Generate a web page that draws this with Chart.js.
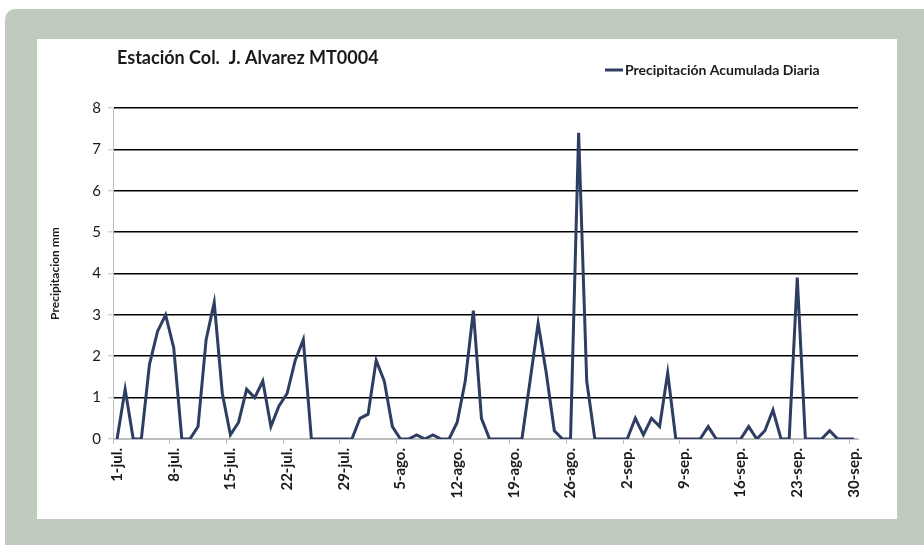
<!DOCTYPE html>
<html>
<head>
<meta charset="utf-8">
<script src="https://cdn.jsdelivr.net/npm/chart.js@4"></script>
<style>
    html, body { margin: 0; padding: 0; background: #ffffff; }
    body { width: 924px; height: 545px; position: relative; overflow: hidden; }
    .frame {
        position: absolute; left: 5px; top: 9px; width: 919px; height: 536px;
        background: #c1cabf; border-top-left-radius: 10px;
    }
    .panel {
        position: absolute; left: 37px; top: 39px; width: 860px; height: 480px;
        background: #ffffff;
    }
</style>
</head>
<body>
<div class="frame"></div>
<div class="panel"><canvas id="rainChart"></canvas></div>
<script>
const chartTitle = "Estación Col.  J. Alvarez MT0004";
const seriesName = "Precipitación Acumulada Diaria";
const axisTitle = "Precipitacion mm";

// days per month, 1-jul to 30-sep
const months = [["jul", 31], ["ago", 31], ["sep", 30]];

// daily rain (mm)
const julRain = [0, 1.2, 0, 0, 1.8, 2.6, 3.0, 2.2, 0, 0, 0.3, 2.4, 3.3, 1.1, 0.1, 0.4,
    1.2, 1.0, 1.4, 0.3, 0.8, 1.1, 1.9, 2.4, 0, 0, 0, 0, 0, 0, 0.5];
const agoRain = [0.6, 1.9, 1.4, 0.3, 0, 0, 0.1, 0, 0.1, 0, 0, 0.4, 1.4, 3.1, 0.5, 0,
    0, 0, 0, 0, 1.4, 2.8, 1.6, 0.2, 0, 0, 7.4, 1.4, 0, 0, 0];
const sepRain = [0, 0, 0.5, 0.1, 0.5, 0.3, 1.6, 0, 0, 0, 0, 0.3, 0, 0, 0, 0,
    0.3, 0, 0.2, 0.7, 0, 0, 3.9, 0, 0, 0, 0.2, 0, 0, 0];

const yTicks = [0, 1, 2, 3, 4, 5, 6, 7, 8];

const days = [];
months.forEach(([m, n]) => {
    for (let d = 1; d <= n; d++) days.push(d + "-" + m + ".");
});
const rain = julRain.concat(agoRain, sepRain);

const lineColor = "#2e3d62";
const axisGray = "#bfbfbf";
const fontFamily = "Lato, 'Open Sans', sans-serif";

const header = {
    id: "header",
    afterDraw(chart) {
        const ctx = chart.ctx;
        ctx.save();
        ctx.fillStyle = "#1a1a1a";
        ctx.textBaseline = "middle";
        ctx.font = "bold 18px " + fontFamily;
        ctx.fillText(chartTitle, 80, 19);
        ctx.strokeStyle = lineColor;
        ctx.lineWidth = 3;
        ctx.beginPath();
        ctx.moveTo(568, 31);
        ctx.lineTo(586, 31);
        ctx.stroke();
        ctx.font = "bold 14px " + fontFamily;
        ctx.fillText(seriesName, 588, 31);
        ctx.restore();
    }
};

new Chart(document.getElementById("rainChart"), {
    type: "line",
    data: {
        labels: days,
        datasets: [{
            label: seriesName,
            data: rain,
            borderColor: lineColor,
            backgroundColor: lineColor,
            borderWidth: 3,
            pointRadius: 0,
            tension: 0,
            fill: false
        }]
    },
    options: {
        responsive: true,
        maintainAspectRatio: false,
        animation: false,
        layout: { padding: { top: 69, right: 39, bottom: 0, left: 0 } },
        plugins: {
            legend: { display: false },
            tooltip: { enabled: false }
        },
        scales: {
            x: {
                offset: true,
                afterFit: s => { s.height = 80; },
                border: { color: axisGray, width: 1 },
                grid: {
                    offset: true,
                    drawOnChartArea: false,
                    tickLength: 5,
                    color: c => c.index % 7 === 0 ? axisGray : "transparent"
                },
                ticks: {
                    autoSkip: false,
                    minRotation: 90,
                    maxRotation: 90,
                    padding: 4,
                    color: "#1a1a1a",
                    font: { family: fontFamily, size: 15, weight: "bold" },
                    callback: (v, i) => i % 7 === 0 ? days[i] : ""
                }
            },
            y: {
                min: yTicks[0],
                max: yTicks[yTicks.length - 1],
                afterFit: s => { s.width = 76; },
                afterBuildTicks: s => { s.ticks = yTicks.map(v => ({ value: v })); },
                border: { color: axisGray, width: 1 },
                grid: {
                    color: c => c.tick && c.tick.value === 0 ? axisGray : "#000000",
                    lineWidth: 1.6,
                    tickLength: 5,
                    tickColor: axisGray,
                    tickWidth: 1
                },
                ticks: {
                    padding: 7,
                    color: "#1a1a1a",
                    font: { family: fontFamily, size: 15 }
                },
                title: {
                    display: true,
                    text: axisTitle,
                    color: "#1a1a1a",
                    padding: { top: 11, bottom: 0 },
                    font: { family: fontFamily, size: 12, weight: "bold" }
                }
            }
        }
    },
    plugins: [header]
});
</script>
</body>
</html>
